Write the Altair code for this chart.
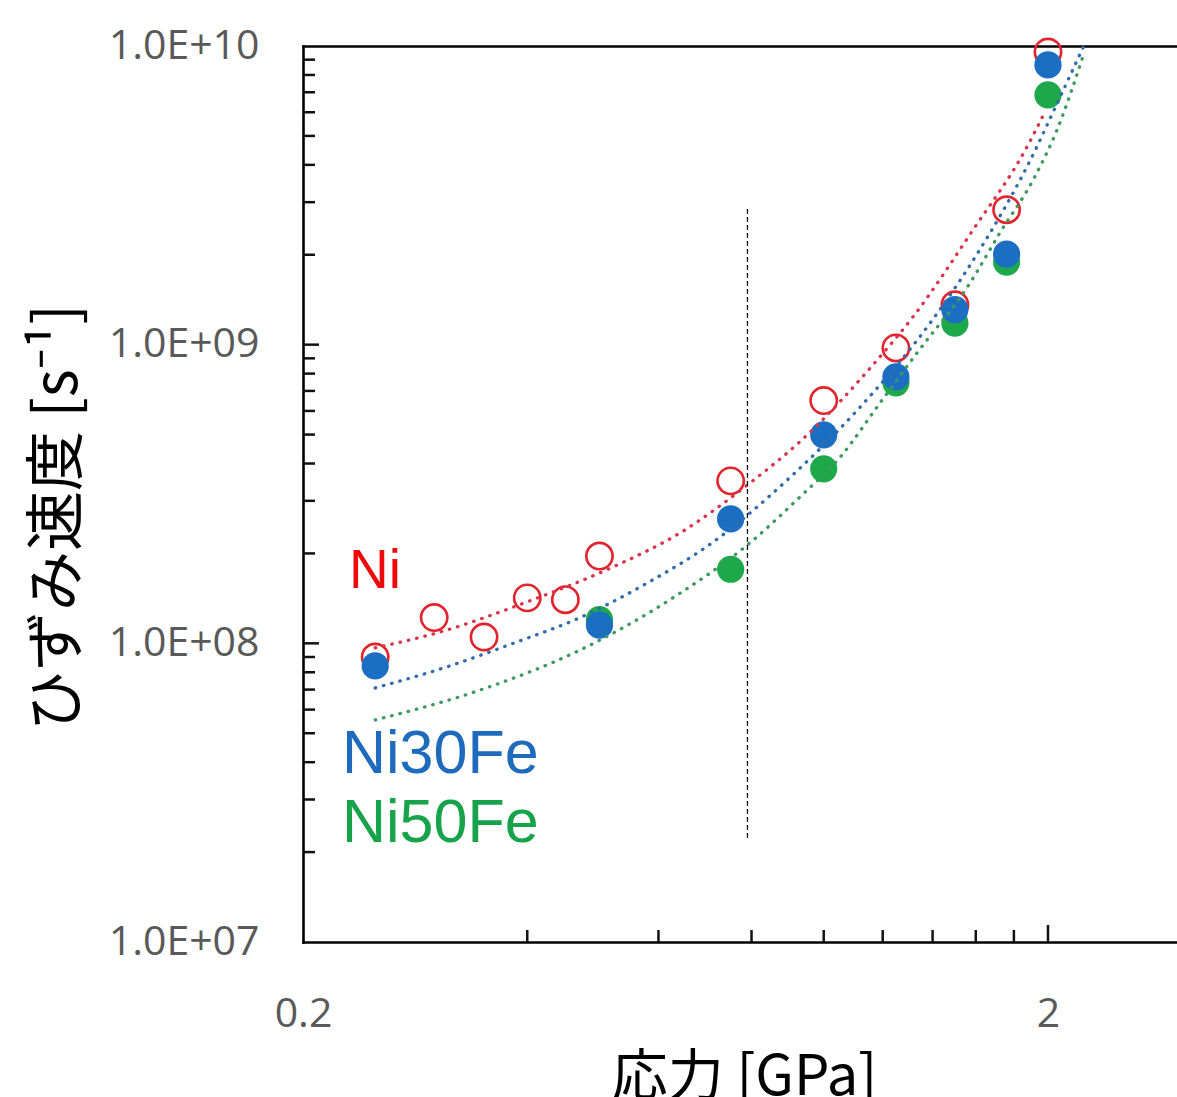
import altair as alt
import pandas as pd

# ---------------- data ----------------
# measured points (stress [GPa], strain rate [1/s])
ni_stress = [0.25, 0.30, 0.35, 0.40, 0.45, 0.50, 0.75, 1.0, 1.25, 1.5, 1.76, 2.0]
ni_rate = [9.0e7, 1.22e8, 1.05e8, 1.42e8, 1.40e8, 1.96e8, 3.5e8, 6.5e8, 9.75e8, 1.36e9, 2.83e9, 9.55e9]
ni30_stress = [0.25, 0.5, 0.75, 1.0, 1.25, 1.5, 1.76, 2.0]
ni30_rate = [8.4e7, 1.15e8, 2.61e8, 4.99e8, 7.8e8, 1.31e9, 2.01e9, 8.64e9]
ni50_stress = [0.5, 0.75, 1.0, 1.25, 1.5, 1.76, 2.0]
ni50_rate = [1.2e8, 1.77e8, 3.84e8, 7.45e8, 1.18e9, 1.89e9, 6.86e9]

# dotted trend curves
ni_fit_stress = [0.25, 0.305, 0.407, 0.521, 0.641, 0.804, 0.929, 1.164, 1.318, 1.586, 1.874, 1.98]
ni_fit_rate = [9.66e7, 1.09e8, 1.40e8, 1.80e8, 2.34e8, 3.51e8, 4.73e8, 8.55e8, 1.24e9, 2.42e9, 4.59e9, 6.0e9]
ni30_fit_stress = [0.25, 0.312, 0.383, 0.471, 0.579, 0.710, 0.893, 1.119, 1.389, 1.62, 1.874, 2.096, 2.23]
ni30_fit_rate = [7.09e7, 8.34e7, 1.0e8, 1.22e8, 1.59e8, 2.18e8, 3.52e8, 6.18e8, 1.18e9, 2.08e9, 3.94e9, 7.1e9, 9.9e9]
ni50_fit_stress = [0.25, 0.346, 0.471, 0.641, 0.789, 0.929, 1.052, 1.19, 1.334, 1.572, 1.724, 1.91, 2.056, 2.24]
ni50_fit_rate = [5.54e7, 6.98e7, 9.5e7, 1.47e8, 2.13e8, 3.09e8, 4.2e8, 6.38e8, 9.38e8, 1.61e9, 2.37e9, 3.56e9, 5.23e9, 9.6e9]

# vertical dashed marker
threshold_stress = [0.79]
threshold_rate_low = [2.23e7]
threshold_rate_high = [2.89e9]

# series labels (text annotations in data units)
series_names = ["Ni", "Ni30Fe", "Ni50Fe"]
label_stress = [0.2306, 0.2256, 0.2256]
label_rate = [1.533e8, 3.68e7, 2.16e7]

# axis ticks / labels
x_tick_values = [0.2, 2.0]
x_tick_labels = ["0.2", "2"]
x_minor_ticks = [0.4, 0.6, 0.8, 1.0, 1.2, 1.4, 1.6, 1.8]
x_major_ticks = [2.0]
y_tick_values = [1e7, 1e8, 1e9, 1e10]
y_tick_labels = ["1.0E+07", "1.0E+08", "1.0E+09", "1.0E+10"]
y_minor_ticks = [2e7, 3e7, 4e7, 5e7, 6e7, 7e7, 8e7, 9e7,
                 2e8, 3e8, 4e8, 5e8, 6e8, 7e8, 8e8, 9e8,
                 2e9, 3e9, 4e9, 5e9, 6e9, 7e9, 8e9, 9e9]
y_major_ticks = [1e8, 1e9]

# ---------------- styling ----------------
RED = "#E3232B"
BLUE = "#1C6EC3"
GREEN = "#1DA84A"
RED_TXT = "#EE0A0A"
BLUE_TXT = "#1E6BBE"
GREEN_TXT = "#16A34A"
RED_DOT = "#D8344B"
BLUE_DOT = "#2F6CAE"
GREEN_DOT = "#3C9A5E"

W, H = 874, 896

xscale = alt.Scale(type="log", domain=[0.2, 2.98], nice=False)
yscale = alt.Scale(type="log", domain=[1e7, 1e10], nice=False)


def label_expr(values, labels):
    expr = "'" + labels[-1] + "'"
    for v, l in reversed(list(zip(values[:-1], labels[:-1]))):
        expr = f"datum.value < {v * 3} ? '{l}' : " + expr
    return expr


common_axis = dict(ticks=False, tickSize=0, grid=False, domain=True, domainColor="#000",
                   domainWidth=2.6, domainCap="square")

bottom_axis = alt.Axis(orient="bottom", values=x_tick_values,
                       labelExpr=label_expr(x_tick_values, x_tick_labels),
                       labelFlush=False, labelOverlap=False,
                       labelFont="Open Sans", labelFontSize=41, labelColor="#595959",
                       labelPadding=52,
                       title="応力 [GPa]", titleFont="Noto Sans CJK JP", titleFontSize=56,
                       titleFontWeight="normal", titleColor="#000",
                       titleX=441, titleY=152, titleAlign="center", titleBaseline="alphabetic",
                       **common_axis)
top_axis = alt.Axis(orient="top", labels=False, title="", **common_axis)
left_axis = alt.Axis(orient="left", values=y_tick_values,
                     labelExpr=label_expr(y_tick_values, y_tick_labels),
                     labelFlush=False, labelOverlap=False,
                     labelFont="Open Sans", labelFontSize=41, labelColor="#595959",
                     labelPadding=44,
                     title="ひずみ速度 [s⁻¹]", titleFont="Noto Sans CJK JP", titleFontSize=60,
                     titleFontWeight="normal", titleColor="#000", titleAngle=270,
                     titleX=-227, titleY=471, titleAlign="center", titleBaseline="alphabetic",
                     **common_axis)


def X(axis=None):
    if axis is None:
        return alt.X("x:Q", scale=xscale, axis=None)
    return alt.X("x:Q", scale=xscale, axis=axis)


def Y(axis=None):
    if axis is None:
        return alt.Y("y:Q", scale=yscale, axis=None)
    return alt.Y("y:Q", scale=yscale, axis=axis)


df_ni = pd.DataFrame({"x": ni_stress, "y": ni_rate})
df_ni30 = pd.DataFrame({"x": ni30_stress, "y": ni30_rate})
df_ni50 = pd.DataFrame({"x": ni50_stress, "y": ni50_rate})

ni_pts = alt.Chart(df_ni).mark_point(shape="circle", filled=False, stroke=RED, strokeWidth=2.6,
                                     size=690, opacity=1).encode(x=X(bottom_axis), y=Y(left_axis))
ni50_pts = alt.Chart(df_ni50).mark_point(shape="circle", filled=True, fill=GREEN, strokeWidth=0,
                                         size=740, opacity=1).encode(x=X(), y=Y())
ni30_pts = alt.Chart(df_ni30).mark_point(shape="circle", filled=True, fill=BLUE, strokeWidth=0,
                                         size=740, opacity=1).encode(x=X(top_axis), y=Y())


def fit_layer(xs, ys, color):
    df = pd.DataFrame({"x": xs, "y": ys})
    return alt.Chart(df).mark_line(color=color, strokeWidth=3.3, strokeDash=[0.5, 8],
                                   strokeCap="round", interpolate="monotone", clip=True
                                   ).encode(x=X(), y=Y())


ni_fit = fit_layer(ni_fit_stress, ni_fit_rate, RED_DOT)
ni30_fit = fit_layer(ni30_fit_stress, ni30_fit_rate, BLUE_DOT)
ni50_fit = fit_layer(ni50_fit_stress, ni50_fit_rate, GREEN_DOT)

df_thr = pd.DataFrame({"x": threshold_stress, "y": threshold_rate_low, "y2": threshold_rate_high})
thr = alt.Chart(df_thr).mark_rule(color="#000", strokeWidth=1.3, strokeDash=[5, 3]).encode(
    x=X(), y=Y(), y2="y2:Q")

# inward ticks
xminor = alt.Chart(pd.DataFrame({"x": x_minor_ticks})).mark_rule(color="#111", strokeWidth=2.5).encode(
    x=X(), y=alt.value(H), y2=alt.value(H - 12))
xmajor = alt.Chart(pd.DataFrame({"x": x_major_ticks})).mark_rule(color="#111", strokeWidth=2.5).encode(
    x=X(), y=alt.value(H), y2=alt.value(H - 17))
yminor = alt.Chart(pd.DataFrame({"y": y_minor_ticks})).mark_rule(color="#111", strokeWidth=2.5).encode(
    y=Y(), x=alt.value(0), x2=alt.value(12))
ymajor = alt.Chart(pd.DataFrame({"y": y_major_ticks})).mark_rule(color="#111", strokeWidth=2.5).encode(
    y=Y(), x=alt.value(0), x2=alt.value(16))


def text_layer(i, color, size):
    df = pd.DataFrame({"x": [label_stress[i]], "y": [label_rate[i]], "t": [series_names[i]]})
    return alt.Chart(df).mark_text(align="left", baseline="alphabetic", font="Liberation Sans",
                                   fontSize=size, color=color).encode(x=X(), y=Y(), text="t:N")


t_ni = text_layer(0, RED_TXT, 55)
t_ni30 = text_layer(1, BLUE_TXT, 61)
t_ni50 = text_layer(2, GREEN_TXT, 61)

chart = alt.layer(
    ni_pts, ni50_pts, ni30_pts, ni_fit, ni30_fit, ni50_fit, thr,
    xminor, xmajor, yminor, ymajor, t_ni, t_ni30, t_ni50
).resolve_axis(x="independent", y="independent").properties(
    width=W, height=H,
    autosize=alt.AutoSizeParams(type="none"),
    padding={"left": 303, "top": 46, "right": 0, "bottom": 155},
    background="white",
).configure_view(stroke="transparent")

chart.save("out.html", embed_options={"renderer": "svg", "actions": False})
